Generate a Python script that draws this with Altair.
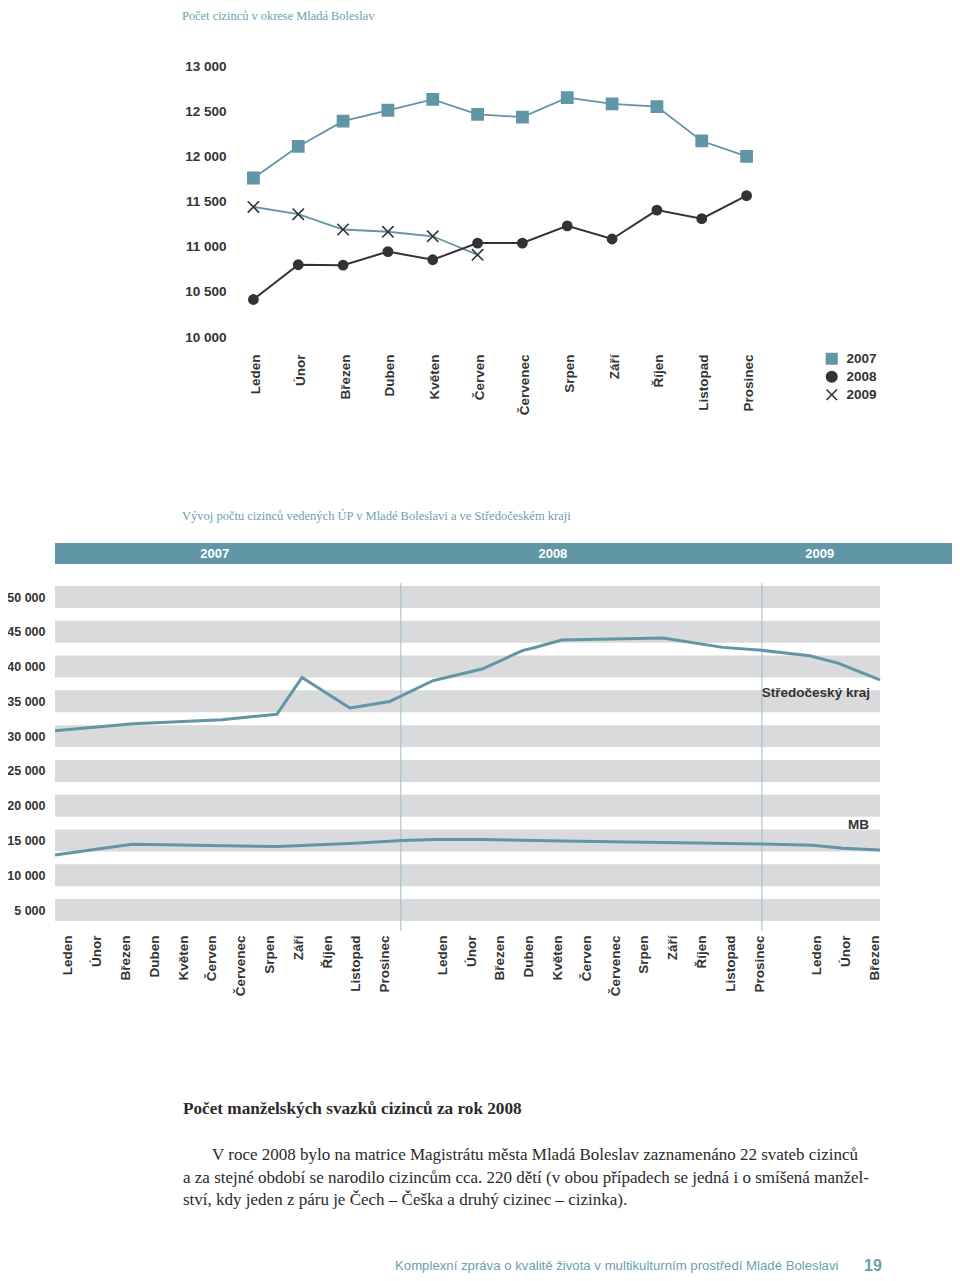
import json
import altair as alt
import pandas as pd

# ---------------- data ----------------
months = ["Leden", "Únor", "Březen", "Duben", "Květen", "Červen",
          "Červenec", "Srpen", "Září", "Říjen", "Listopad", "Prosinec"]
years = ["2007", "2008", "2009"]
values_2007 = [11760, 12110, 12390, 12510, 12630, 12465, 12435, 12650, 12580, 12550, 12170, 12000]
values_2008 = [10415, 10800, 10795, 10945, 10855, 11040, 11040, 11230, 11085, 11405, 11310, 11565]
values_2009 = [11440, 11360, 11190, 11165, 11115, 10910]
top_ticks = [10000, 10500, 11000, 11500, 12000, 12500, 13000]

# bottom chart: x = month slot (0-11 = 2007, 13-24 = 2008, 26-28 = 2009)
kraj_slot = [-0.45, 2.26, 5.35, 7.26, 8.13, 9.79, 11.18, 12.67, 14.38, 15.8, 16.15, 17.15,
             20.66, 22.74, 24.1, 25.76, 26.74, 28.2]
kraj_count = [30760, 31770, 32350, 33160, 38440, 34030, 34990, 37960, 39640, 42330, 42660, 43810,
              44100, 42760, 42330, 41560, 40500, 38100]
mb_slot = [-0.45, 2.22, 7.29, 9.97, 11.6, 12.74, 14.38, 17.19, 24.1, 25.87, 26.91, 28.2]
mb_count = [12920, 14450, 14120, 14600, 14980, 15130, 15130, 14930, 14500, 14310, 13880, 13640]
bottom_ticks = [5000, 10000, 15000, 20000, 25000, 30000, 35000, 40000, 45000, 50000]
bottom_month_slots = list(range(0, 12)) + list(range(13, 25)) + list(range(26, 29))
bottom_x_domain = [-0.45, 28.2]
bottom_y_domain = [0, 52000]
year_breaks = [11.56, 24.1]
banner_years = ["2007", "2008", "2009"]
banner_year_slot = [5.1, 16.84, 26.11]
series_names = ["Středočeský kraj", "MB"]
series_label_slot = [27.85, 27.82]
series_label_count = [36200, 17220]

title_top = "Počet cizinců v okrese Mladá Boleslav"
title_bottom = "Vývoj počtu cizinců vedených ÚP v Mladé Boleslavi a ve Středočeském kraji"
heading = "Počet manželských svazků cizinců za rok 2008"
para_lines = [
    "V roce 2008 bylo na matrice Magistrátu města Mladá Boleslav zaznamenáno 22 svateb cizinců",
    "a za stejné období se narodilo cizincům cca. 220 dětí (v obou případech se jedná i o smíšená manžel-",
    "ství, kdy jeden z páru je Čech – Češka a druhý cizinec – cizinka).",
]
footer = "Komplexní zpráva o kvalitě života v multikulturním prostředí Mladé Boleslavi"
page_no = "19"

# ---------------- styles ----------------
W, H = 944, 1265
TEAL = "#6096a6"
TEAL_TXT = "#6a9fb0"
DARK = "#333333"
GRAY = "#d9dadc"
SANS = "Liberation Sans"
SERIF = "Liberation Serif"
XPATH = "M-1,-1L1,1M1,-1L-1,1"
num_expr = "replace(format(datum.value, ','), ',', ' ')"

# ---------------- top chart ----------------
rows = []
for yr, vals in zip(years, [values_2007, values_2008, values_2009]):
    for i, v in enumerate(vals):
        rows.append({"month": months[i], "mi": i, "year": yr, "value": v})
top_df = pd.DataFrame(rows)

top_x = alt.X("month:N", title=None,
              scale=alt.Scale(type="point", domain=months, range=[223, 761], padding=0.5),
              axis=alt.Axis(orient="bottom", offset=342 - H, labelAngle=-90, labelAlign="right",
                            labelBaseline="middle", labelPadding=4, labelOffset=2, ticks=False, tickSize=0,
                            domain=False, grid=False, labelFont=SANS, labelFontSize=13.5,
                            labelFontWeight="bold", labelColor=DARK))
top_y = alt.Y("value:Q", title=None,
              scale=alt.Scale(domain=[10000, 13000], range=[329, 58], nice=False, zero=False),
              axis=alt.Axis(orient="left", offset=-222, values=top_ticks, labelExpr=num_expr,
                            labelPadding=4, ticks=False, tickSize=0, domain=False, grid=False,
                            labelFont=SANS, labelFontSize=13.5, labelFontWeight="bold",
                            labelColor=DARK))

leg = alt.Legend(title=None, orient="none", legendX=817, legendY=344, labelFont=SANS,
                 labelFontSize=13.5, labelFontWeight="bold", labelColor=DARK, symbolSize=110,
                 symbolStrokeWidth=1.6, rowPadding=0, padding=0, labelOffset=8)
fill_enc = alt.Fill("year:N", scale=alt.Scale(domain=years, range=[TEAL, DARK, DARK]), legend=leg)
stroke_enc = alt.Stroke("year:N", scale=alt.Scale(domain=years, range=[TEAL, DARK, DARK]), legend=leg)
shape_enc = alt.Shape("year:N", scale=alt.Scale(domain=years, range=["square", "circle", XPATH]), legend=leg)

line_teal = alt.Chart(top_df).transform_filter("datum.year != '2008'").mark_line(
    color=TEAL, strokeWidth=1.8).encode(x=top_x, y=top_y, detail="year:N", order="mi:Q")
line_dark = alt.Chart(top_df).transform_filter("datum.year == '2008'").mark_line(
    color=DARK, strokeWidth=2).encode(x=top_x, y=top_y, order="mi:Q")

pt_layers = []
for yr, sz in zip(years, [125, 85, 130]):
    pt_layers.append(
        alt.Chart(top_df).transform_filter(f"datum.year == '{yr}'").mark_point(
            filled=True, size=sz, strokeWidth=1.6, opacity=1).encode(
            x=top_x, y=top_y, fill=fill_enc, stroke=stroke_enc, shape=shape_enc)
    )
top_group = alt.layer(line_teal, line_dark, *pt_layers)

# ---------------- bottom chart ----------------
bx_scale = alt.Scale(domain=bottom_x_domain, range=[47, 872], nice=False, zero=False)
by_scale = alt.Scale(domain=bottom_y_domain, range=[936.8, 575.1], nice=False, zero=False)
month_arr = json.dumps(months, ensure_ascii=False)
bx_axis = alt.Axis(orient="bottom", offset=924 - H, values=bottom_month_slots,
                   labelExpr=f"{month_arr}[datum.value % 13]", labelAngle=-90, labelAlign="right",
                   labelBaseline="middle", labelPadding=3, ticks=False, tickSize=0, domain=False,
                   grid=False, labelOverlap=False, labelFlush=False, labelFont=SANS,
                   labelFontSize=13.5, labelFontWeight="bold", labelColor=DARK)
by_axis = alt.Axis(orient="left", offset=-40, values=bottom_ticks, labelExpr=num_expr,
                   labelPadding=3, ticks=False, tickSize=0, domain=False, grid=False,
                   labelFont=SANS, labelFontSize=12.5, labelFontWeight="bold", labelColor=DARK,
                   labelOverlap=False, labelFlush=False)


def BX(f):
    return alt.X(f, type="quantitative", scale=bx_scale, axis=bx_axis, title=None)


def BY(f):
    return alt.Y(f, type="quantitative", scale=by_scale, axis=by_axis, title=None)


bands = alt.Chart(pd.DataFrame({"v": bottom_ticks})).transform_calculate(
    lo="datum.v - 1581", hi="datum.v + 1581",
    x0=str(bottom_x_domain[0]), x1=str(bottom_x_domain[1])
).mark_rect(color=GRAY).encode(x=BX("x0"), x2="x1:Q", y=BY("lo"), y2="hi:Q")

rules = alt.Chart(pd.DataFrame({"b": year_breaks})).transform_calculate(
    y0="2000", y1="52000"
).mark_rule(color="#9dbcc6", strokeWidth=1).encode(x=BX("b"), y=BY("y0"), y2="y1:Q")

line_rows = []
for i, (s, c) in enumerate(zip(kraj_slot, kraj_count)):
    line_rows.append({"series": "kraj", "i": i, "slot": s, "count": c})
for i, (s, c) in enumerate(zip(mb_slot, mb_count)):
    line_rows.append({"series": "MB", "i": i, "slot": s, "count": c})
lines = alt.Chart(pd.DataFrame(line_rows)).mark_line(
    color=TEAL, strokeWidth=3, strokeJoin="round").encode(
    x=BX("slot"), y=BY("count"), detail="series:N", order="i:Q")

series_labels = alt.Chart(pd.DataFrame({"name": series_names, "slot": series_label_slot,
                                        "count": series_label_count})).mark_text(
    align="right", baseline="middle", font=SANS, fontWeight="bold", fontSize=13.5,
    color=DARK).encode(x=BX("slot"), y=BY("count"), text="name:N")

banner = alt.Chart(pd.DataFrame({"k": [0]})).transform_calculate(
    x0=str(bottom_x_domain[0]), x1=str(bottom_x_domain[1] + 4), y0="54744", y1="57764"
).mark_rect(color=TEAL).encode(x=BX("x0"), x2="x1:Q", y=BY("y0"), y2="y1:Q")

banner_text = alt.Chart(pd.DataFrame({"year": banner_years, "slot": banner_year_slot})).transform_calculate(
    yc="56200").mark_text(font=SANS, fontWeight="bold", fontSize=13, color="white",
                          baseline="middle").encode(x=BX("slot"), y=BY("yc"), text="year:N")

bottom_group = alt.layer(bands, rules, lines, series_labels, banner, banner_text)

# ---------------- page texts ----------------


def page_text(txt, x, y, **kw):
    return alt.Chart(pd.DataFrame({"t": [txt]})).mark_text(align="left", **kw).encode(
        x=alt.value(x), y=alt.value(y), text="t:N")


texts = [
    page_text(title_top, 174, 2, baseline="top", font=SERIF, fontSize=12.4, color=TEAL_TXT),
    page_text(title_bottom, 174, 508, baseline="middle", font=SERIF, fontSize=12.5, color=TEAL_TXT),
    page_text(heading, 175, 1101, baseline="middle", font=SERIF, fontSize=17.2,
              fontWeight="bold", color="#2a2a2a"),
    page_text(footer, 387, 1258, baseline="middle", font=SANS, fontSize=13.2, color=TEAL_TXT),
    page_text(page_no, 856, 1258, baseline="middle", font=SANS, fontSize=16, fontWeight="bold",
              color=TEAL_TXT),
]
for k, line in enumerate(para_lines):
    texts.append(page_text(line, 204 if k == 0 else 175, 1147 + 22.7 * k, baseline="middle",
                           font=SERIF, fontSize=17, color="#2a2a2a"))

chart = alt.layer(top_group, bottom_group, *texts).resolve_scale(
    x="independent", y="independent"
).properties(
    width=W, height=H, autosize=alt.AutoSizeParams(type="none"), padding=0
).configure_view(stroke=None)

chart.save("out.html", embed_options={"renderer": "svg", "actions": False})
